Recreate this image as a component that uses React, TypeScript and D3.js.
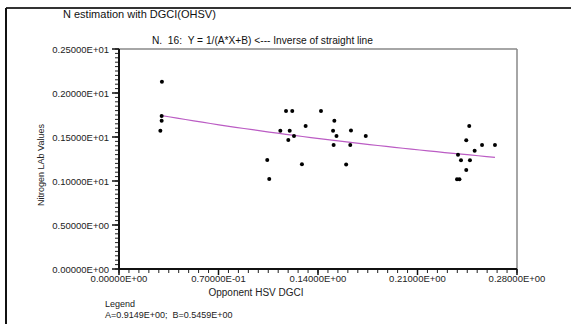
import React from 'react';
import * as d3 from 'd3';

// digitised DGCI vs lab N values
const dgci = [
  0.0302, 0.0300, 0.0300, 0.0291, 0.1043, 0.1057, 0.1135, 0.1175, 0.1219, 0.1201,
  0.1191, 0.1231, 0.1287, 0.1313, 0.1421, 0.1515, 0.1506, 0.1530, 0.1510, 0.1598,
  0.1632, 0.1627, 0.1736, 0.2464, 0.2443, 0.2554, 0.2645, 0.2502, 0.2385, 0.2406,
  0.2469, 0.2443, 0.2378, 0.2395,
];
const nitrogen = [
  2.128, 1.739, 1.685, 1.572, 1.239, 1.023, 1.572, 1.795, 1.795, 1.572,
  1.466, 1.511, 1.190, 1.625, 1.795, 1.685, 1.572, 1.511, 1.409, 1.187,
  1.574, 1.409, 1.511, 1.625, 1.462, 1.409, 1.409, 1.344, 1.299, 1.235,
  1.235, 1.125, 1.019, 1.019,
];

const xTicks = [0, 0.07, 0.14, 0.21, 0.28];
const xTickLabels = ['0.00000E+00', '0.70000E-01', '0.14000E+00', '0.21000E+00', '0.28000E+00'];
const yTicks = [0, 0.5, 1.0, 1.5, 2.0, 2.5];
const yTickLabels = ['0.00000E+00', '0.50000E+00', '0.10000E+01', '0.15000E+01', '0.20000E+01', '0.25000E+01'];

// fitted Y = 1/(A*X+B)
const A = 0.9149;
const B = 0.5459;

const W = 571;
const H = 324;
const font = 'Liberation Sans, Arial, sans-serif';
const nb = '\u00A0';

export default function App() {
  const left = 119, right = 517, top = 49, bottom = 269;
  const x = d3.scaleLinear().domain([0, 0.28]).range([left, right]);
  const y = d3.scaleLinear().domain([0, 2.5]).range([bottom, top]);

  const xMinor = d3.range(0, 40 + 1).map(i => i * 0.007);
  const yMinor = d3.range(0, 50 + 1).map(i => i * 0.05);

  const xMin = d3.min(dgci) as number;
  const xMax = d3.max(dgci) as number;
  const fit = d3.range(0, 41).map(i => {
    const xv = xMin + (xMax - xMin) * (i / 40);
    return [xv, 1 / (A * xv + B)] as [number, number];
  });
  const line = d3.line<[number, number]>().x(d => x(d[0])).y(d => y(d[1]));

  return (
    <svg width={W} height={H} style={{ position: 'fixed', left: 0, top: 0, background: '#fff' }} fontFamily={font}>
      {/* outer frame */}
      <line x1={6} y1={8} x2={W} y2={8} stroke="#333" strokeWidth={2} />
      <line x1={6} y1={8} x2={6} y2={H} stroke="#111" strokeWidth={2} />

      <text x={63} y={18} fontSize={11} fill="#111">N estimation with DGCI(OHSV)</text>
      <text x={152} y={44} fontSize={10.2} fill="#111">
        {`N.${nb}${nb}16:${nb}${nb}Y = 1/(A*X+B) <--- Inverse of straight line`}
      </text>

      {/* plot box */}
      <line x1={left} y1={top} x2={right} y2={top} stroke="#888" strokeWidth={1.5} />
      <line x1={right} y1={top} x2={right} y2={bottom} stroke="#888" strokeWidth={1.5} />

      {/* y axis */}
      {yMinor.map((v, i) => (
        <line key={'ym' + i} x1={x(0) - 4} x2={x(0)} y1={y(v)} y2={y(v)} stroke="#222" strokeWidth={1} />
      ))}
      {yTicks.map((v, i) => (
        <g key={'yt' + i}>
          <line x1={x(0) - 7} x2={x(0)} y1={y(v)} y2={y(v)} stroke="#111" strokeWidth={1.5} />
          <text x={109} y={y(v) + 3.5} fontSize={9.5} textAnchor="end" fill="#222">{yTickLabels[i]}</text>
        </g>
      ))}
      <line x1={left} y1={top} x2={left} y2={bottom} stroke="#111" strokeWidth={2} />

      {/* x axis */}
      {xMinor.map((v, i) => (
        <line key={'xm' + i} x1={x(v)} x2={x(v)} y1={bottom} y2={bottom + 4} stroke="#222" strokeWidth={1} />
      ))}
      {xTicks.map((v, i) => (
        <g key={'xt' + i}>
          <line x1={x(v)} x2={x(v)} y1={bottom} y2={bottom + 6} stroke="#111" strokeWidth={1.5} />
          <text x={x(v)} y={282} fontSize={9.5} textAnchor="middle" fill="#222">{xTickLabels[i]}</text>
        </g>
      ))}
      <line x1={left} y1={bottom} x2={right} y2={bottom} stroke="#111" strokeWidth={2} />

      <text x={256} y={296} fontSize={10} textAnchor="middle" fill="#222">Opponent HSV DGCI</text>
      <text transform={`translate(44,165) rotate(-90)`} fontSize={9} textAnchor="middle" fill="#222">Nitrogen LAb Values</text>

      <path d={line(fit) || ''} fill="none" stroke="#bb5cc4" strokeWidth={1.2} />

      {dgci.map((v, i) => (
        <circle key={'p' + i} cx={x(v)} cy={y(nitrogen[i])} r={2} fill="#000" />
      ))}

      <text x={105} y={307} fontSize={9} fill="#222">Legend</text>
      <text x={105} y={318} fontSize={9} fill="#222">{`A=0.9149E+00;${nb}${nb}B=0.5459E+00`}</text>
    </svg>
  );
}
